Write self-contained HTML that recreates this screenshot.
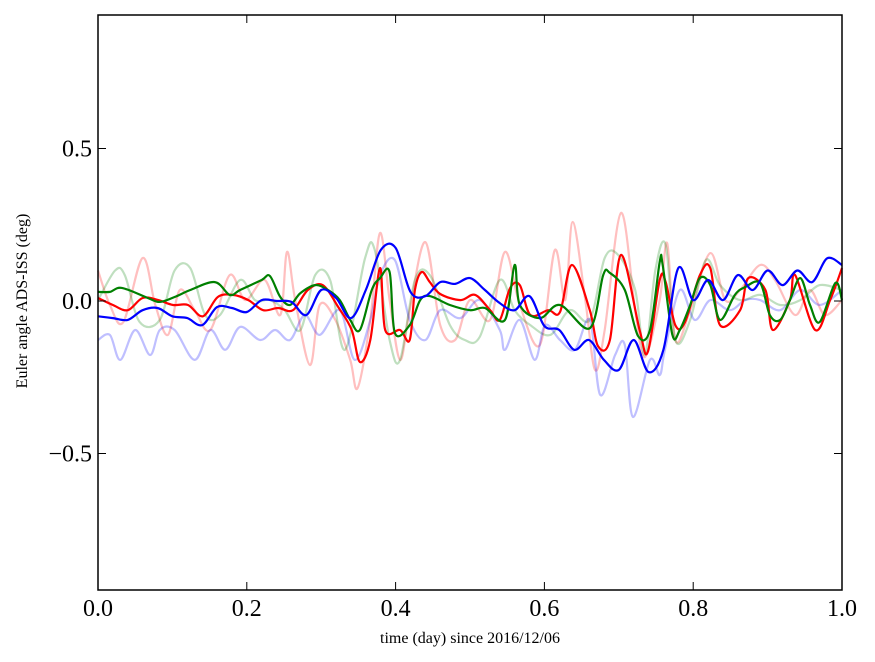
<!DOCTYPE html>
<html><head><meta charset="utf-8"><style>
html,body{margin:0;padding:0;background:#fff;}
svg{display:block;font-family:"Liberation Serif",serif;}
</style></head><body>
<svg id="chart" width="875" height="662">
<rect x="0" y="0" width="875" height="662" fill="#fff"/>
<g id="series"></g>
<g id="axes"></g>
<text x="470" y="643" font-size="16" text-anchor="middle">time (day) since 2016/12/06</text>
<text transform="translate(27,301) rotate(-90)" font-size="16" text-anchor="middle">Euler angle ADS-ISS (deg)</text>
</svg>
<script>
const xTicks=[0,0.2,0.4,0.6,0.8,1.0];
const xTickLabels=["0.0","0.2","0.4","0.6","0.8","1.0"];
const yTicks=[0.5,0,-0.5];
const yTickLabels=["0.5","0.0","\u22120.5"];

const blueT=[0,0.02,0.04,0.06,0.08,0.1,0.12,0.14,0.16,0.18,0.2,0.22,0.24,0.26,0.28,0.3,0.32,0.34,0.36,0.38,0.4,0.42,0.44,0.46,0.48,0.5,0.52,0.54,0.56,0.58,0.6,0.62,0.64,0.66,0.68,0.7,0.72,0.74,0.76,0.78,0.8,0.82,0.84,0.86,0.88,0.9,0.92,0.94,0.96,0.98,1.0];
const blueV=[-0.05,-0.056,-0.062,-0.03,-0.023,-0.05,-0.056,-0.079,-0.02,-0.023,-0.036,0.003,0,-0.003,-0.046,0.036,0.01,-0.056,0.036,0.167,0.174,0.03,0.016,0.062,0.056,0.075,0.036,-0.007,-0.03,0.016,-0.082,-0.095,-0.16,-0.128,-0.193,-0.226,-0.128,-0.233,-0.16,0.108,0.003,0.069,0.003,0.085,0.036,0.1,0.052,0.1,0.062,0.14,0.118];

const redT=[0,0.02,0.04,0.06,0.081,0.101,0.121,0.141,0.161,0.181,0.202,0.222,0.242,0.262,0.282,0.302,0.323,0.341,0.352,0.366,0.379,0.386,0.406,0.419,0.426,0.435,0.446,0.46,0.487,0.507,0.527,0.54,0.554,0.567,0.581,0.605,0.621,0.637,0.661,0.672,0.688,0.703,0.728,0.739,0.755,0.763,0.776,0.789,0.809,0.823,0.836,0.863,0.874,0.897,0.907,0.93,0.937,0.964,0.984,1.0];
const redV=[0.01,-0.013,-0.03,0.01,0.003,-0.013,-0.013,-0.05,0.013,0.02,0.003,-0.03,-0.023,-0.03,0.036,0.052,-0.02,-0.095,-0.2,-0.128,0.108,-0.095,-0.095,-0.128,0.036,0.095,0.062,0.023,0.003,0.02,-0.03,-0.062,0.043,0.052,-0.046,-0.03,-0.036,0.118,-0.03,-0.148,-0.128,0.151,-0.095,-0.167,0.069,0.062,-0.079,-0.069,0.085,0.108,-0.079,-0.03,0.075,0.036,-0.095,0.003,0.085,-0.095,0.003,0.108];

const greenT=[0,0.016,0.032,0.067,0.083,0.103,0.124,0.157,0.177,0.191,0.22,0.231,0.245,0.258,0.272,0.292,0.309,0.325,0.339,0.352,0.368,0.379,0.392,0.399,0.419,0.433,0.446,0.473,0.5,0.52,0.547,0.56,0.567,0.594,0.621,0.661,0.679,0.688,0.708,0.726,0.742,0.755,0.759,0.772,0.782,0.796,0.809,0.823,0.836,0.856,0.87,0.89,0.903,0.917,0.93,0.944,0.957,0.97,0.991,1.0];
const greenV=[0.03,0.03,0.043,0.01,-0.003,0.013,0.036,0.062,0.02,0.036,0.069,0.082,0.013,-0.013,0.026,0.052,0.036,0.003,-0.062,-0.095,0.036,0.075,0.095,-0.105,-0.079,0.003,0.016,-0.013,-0.03,-0.023,-0.062,0.118,-0.013,-0.056,-0.013,-0.089,0.085,0.092,0.036,-0.115,-0.095,0.128,0.118,-0.111,-0.095,-0.013,0.075,0.052,-0.062,0.02,0.046,0.059,-0.046,-0.062,0.003,0.075,-0.013,-0.069,0.059,0.003];

const redFaintT=[0,0.016,0.034,0.06,0.077,0.094,0.11,0.13,0.151,0.177,0.198,0.224,0.245,0.254,0.265,0.285,0.298,0.319,0.339,0.349,0.366,0.379,0.392,0.406,0.419,0.44,0.46,0.48,0.5,0.527,0.547,0.567,0.594,0.614,0.628,0.638,0.655,0.668,0.681,0.703,0.722,0.735,0.755,0.765,0.776,0.796,0.823,0.843,0.863,0.89,0.91,0.937,0.957,0.977,1];
const redFaintV=[0.1,-0.013,-0.069,0.141,-0.013,-0.111,0.036,-0.03,-0.095,0.085,0.003,0.069,-0.046,0.161,0.003,-0.21,-0.013,-0.062,-0.193,-0.285,-0.062,0.223,0.003,-0.193,-0.03,0.193,-0.079,-0.128,0.003,-0.062,0.161,-0.013,-0.144,0.167,0.003,0.259,0.003,-0.226,-0.095,0.289,-0.03,-0.184,0.003,0.19,-0.128,-0.03,0.157,0.003,0.036,0.118,0.069,-0.046,0.036,-0.046,0.003];

const greenFaintT=[0,0.023,0.036,0.056,0.083,0.103,0.124,0.144,0.164,0.191,0.211,0.231,0.251,0.272,0.292,0.312,0.332,0.359,0.372,0.392,0.406,0.426,0.446,0.473,0.493,0.513,0.54,0.56,0.581,0.608,0.634,0.661,0.681,0.699,0.722,0.735,0.749,0.763,0.776,0.796,0.817,0.836,0.863,0.89,0.917,0.944,0.97,1];
const greenFaintV=[0.003,0.1,0.085,-0.069,-0.062,0.1,0.108,-0.046,-0.046,0.069,0.003,0.003,-0.03,-0.095,0.085,0.069,-0.16,0.141,0.167,-0.128,-0.193,0.069,0.085,-0.079,-0.128,-0.118,0.069,-0.03,-0.079,-0.111,-0.03,-0.062,0.141,0.151,0.036,-0.177,0.1,0.184,-0.128,-0.062,0.134,0.052,0.003,0.02,-0.013,0.003,0.052,0.036];

const blueFaintT=[0,0.016,0.03,0.05,0.07,0.083,0.103,0.13,0.151,0.171,0.191,0.218,0.238,0.258,0.278,0.298,0.325,0.345,0.366,0.379,0.399,0.419,0.44,0.46,0.487,0.513,0.54,0.547,0.567,0.587,0.601,0.621,0.641,0.661,0.675,0.695,0.708,0.719,0.742,0.755,0.762,0.782,0.802,0.823,0.849,0.87,0.89,0.917,0.944,0.97,1];
const blueFaintV=[-0.128,-0.111,-0.193,-0.095,-0.177,-0.095,-0.095,-0.193,-0.095,-0.16,-0.085,-0.128,-0.095,-0.128,-0.046,-0.111,-0.03,-0.193,-0.062,0.085,0.134,-0.062,-0.128,-0.03,-0.056,0.003,-0.095,-0.16,-0.062,-0.193,-0.079,-0.128,-0.16,-0.062,-0.308,-0.177,-0.144,-0.38,-0.193,-0.243,-0.16,0.036,-0.062,0.003,-0.03,0.003,0.003,-0.03,0.036,-0.013,0.036];

const L=98,R=842,T=15,B=590;
const yMin=-0.9475,yMax=0.9377;
function sx(t){return L+t*(R-L);}
function sy(v){return B-(v-yMin)/(yMax-yMin)*(B-T);}
const NS="http://www.w3.org/2000/svg";
const sg=document.getElementById('series');
const ag=document.getElementById('axes');
function smoothPath(ts,vs){
  const P=ts.map((t,i)=>[sx(t),sy(vs[i])]);
  let d='M'+P[0][0].toFixed(1)+','+P[0][1].toFixed(1);
  for(let i=0;i<P.length-1;i++){
    const p0=P[Math.max(0,i-1)],p1=P[i],p2=P[i+1],p3=P[Math.min(P.length-1,i+2)];
    const c1x=p1[0]+(p2[0]-p0[0])/6,c1y=p1[1]+(p2[1]-p0[1])/6;
    const c2x=p2[0]-(p3[0]-p1[0])/6,c2y=p2[1]-(p3[1]-p1[1])/6;
    d+=' C'+c1x.toFixed(1)+','+c1y.toFixed(1)+' '+c2x.toFixed(1)+','+c2y.toFixed(1)+' '+p2[0].toFixed(1)+','+p2[1].toFixed(1);
  }
  return d;
}
function line(ts,vs,color,w,op,name){
  const p=document.createElementNS(NS,'path');
  p.setAttribute('d',smoothPath(ts,vs));
  p.setAttribute('fill','none');p.setAttribute('stroke',color);
  p.setAttribute('stroke-width',w);p.setAttribute('stroke-opacity',op);
  p.setAttribute('stroke-linejoin','round');
  
  
  sg.appendChild(p);
}
line(redFaintT,redFaintV,'#ff0000',2.2,0.25,'series-red-faint');
line(greenFaintT,greenFaintV,'#008000',2.2,0.25,'series-green-faint');
line(blueFaintT,blueFaintV,'#0000ff',2.2,0.25,'series-blue-faint');
line(redT,redV,'#ff0000',2.2,1,'series-red');
line(greenT,greenV,'#008000',2.2,1,'series-green');
line(blueT,blueV,'#0000ff',2.2,1,'series-blue');

const fr=document.createElementNS(NS,'rect');
fr.setAttribute('x',L);fr.setAttribute('y',T);fr.setAttribute('width',R-L);fr.setAttribute('height',B-T);
fr.setAttribute('fill','none');fr.setAttribute('stroke','#000');fr.setAttribute('stroke-width','1.5');


ag.appendChild(fr);
function seg(x1,y1,x2,y2){const l=document.createElementNS(NS,'line');l.setAttribute('x1',x1);l.setAttribute('y1',y1);l.setAttribute('x2',x2);l.setAttribute('y2',y2);l.setAttribute('stroke','#000');l.setAttribute('stroke-width','1');


ag.appendChild(l);}
xTicks.forEach((t,i)=>{
  const x=sx(t);seg(x,B,x,B-8);seg(x,T,x,T+8);
  const tx=document.createElementNS(NS,'text');
  tx.setAttribute('x',x);tx.setAttribute('y',B+26);tx.setAttribute('font-size','24');tx.setAttribute('text-anchor','middle');
  tx.textContent=xTickLabels[i];
  
  
  ag.appendChild(tx);
});
yTicks.forEach((v,i)=>{
  const y=sy(v);seg(L,y,L+8,y);seg(R,y,R-8,y);
  const tx=document.createElementNS(NS,'text');
  tx.setAttribute('x',L-6);tx.setAttribute('y',y+8);tx.setAttribute('font-size','24');tx.setAttribute('text-anchor','end');
  tx.textContent=yTickLabels[i];
  
  
  ag.appendChild(tx);
});
</script>
</body></html>
